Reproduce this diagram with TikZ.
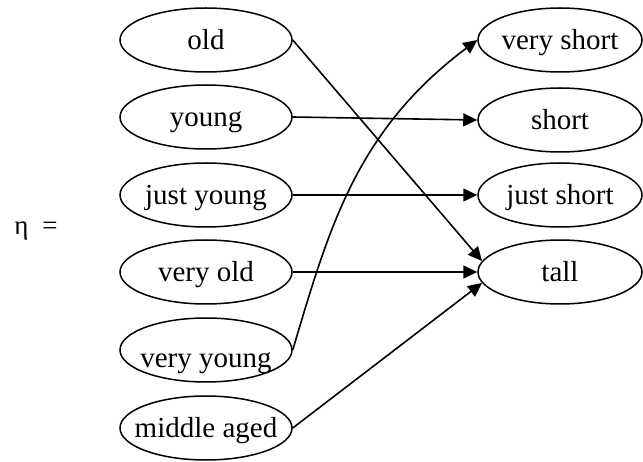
\documentclass[tikz,border=0pt]{standalone}
\usepackage{fontspec}
\setmainfont{Liberation Serif}
\usetikzlibrary{arrows.meta,shapes.geometric}
\begin{document}
\begin{tikzpicture}[x=1pt,y=-1pt,
  lbox/.style={draw,ellipse,line width=1.5pt,inner ysep=0pt,inner xsep=-30pt,minimum width=172pt,minimum height=64pt,
    font=\fontsize{29}{34}\selectfont,text height=20pt,text depth=0pt},
  rbox/.style={lbox,minimum width=164pt},
  conn/.style={line width=1.6pt,-{Triangle[length=14pt,width=13pt]}}]
\useasboundingbox (0,0) rectangle (643,462);
\node[lbox] (old) at (206,40) {old};
\node[lbox] (young) at (206,117) {young};
\node[lbox] (jyoung) at (206,195) {just young};
\node[lbox] (vold) at (206,272) {very old};
\node[lbox] (vyoung) at (206,350) {\raisebox{-8pt}{very young}};
\node[lbox] (maged) at (206,428) {middle aged};
\node[rbox] (vshort) at (560,40) {very short};
\node[rbox] (short) at (560,120) {short};
\node[rbox] (jshort) at (560,195) {just short};
\node[rbox] (tall) at (560,272) {tall};
\node[anchor=base,font=\fontsize{27}{30}\selectfont] (eta) at (36,235) {η\hspace{14pt}=};
\draw[conn] (old.east) -- (tall.172);
\draw[conn] (young.east) -- (short.west);
\draw[conn] (jyoung.east) -- (jshort.west);
\draw[conn] (vold.east) -- (tall.west);
\draw[conn] (vyoung.east) .. controls +(37,-125) and +(-120,90) .. (vshort.west);
\draw[conn] (maged.east) -- (tall.188);
\end{tikzpicture}
\end{document}
